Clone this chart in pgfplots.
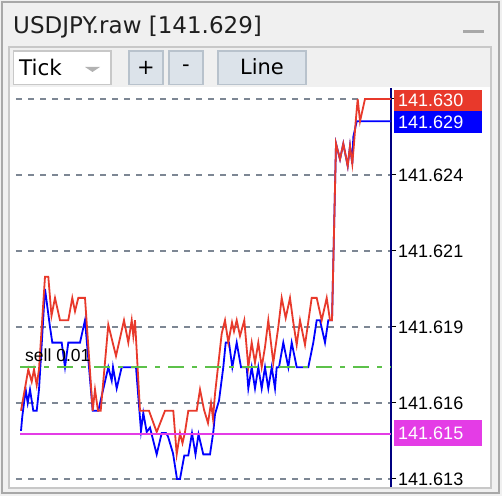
\documentclass[border=0pt]{standalone}
\usepackage{fontspec}
\setmainfont{Liberation Sans}
\newfontfamily\dejavu{DejaVu Sans}
\usepackage{pgfplots}
\pgfplotsset{compat=1.18}
\definecolor{askred}{HTML}{E8392B}
\definecolor{bidblue}{HTML}{0000FF}
\definecolor{tpmag}{HTML}{E43CE6}
\definecolor{sellgreen}{HTML}{5CC14A}
\definecolor{gridgray}{HTML}{7D8794}
\definecolor{navyax}{HTML}{000080}
\definecolor{winbg}{HTML}{F0F0F0}
\definecolor{winborder}{HTML}{A8A8A8}
\definecolor{panelborder}{HTML}{C8C8C8}
\definecolor{btnfill}{HTML}{DCE3EA}
\definecolor{btnborder}{HTML}{B8C2CC}
% prices given in points above 141.600 (value 16 = 141.616)
\begin{document}
\begin{tikzpicture}[x=1pt,y=1pt]
\fill[winbg] (0,0) rectangle (502,496);
\draw[winborder, line width=2pt] (2,3) rectangle (499,494);
\draw[panelborder, line width=2pt] (9,8) rectangle (491,449);
\fill[white] (10,9) rectangle (490,408.5);
% title bar
\node[anchor=base west, inner sep=0pt, text=black!88] at (13,462.5)
  {\dejavu\fontsize{23}{27}\selectfont USDJPY.raw [141.629]};
\fill[winborder] (463,463) rectangle (484,466);
% toolbar
\draw[panelborder, fill=white, line width=1.5pt] (13.5,411.5) rectangle (111,445);
\node[anchor=base west, inner sep=0pt] at (19,420)
  {\dejavu\fontsize{21.5}{25}\selectfont Tick};
\fill[black!30] (85,429) -- (100,429) -- (92.5,424) -- cycle;
\draw[btnborder, fill=btnfill, line width=1.5pt] (129,411.5) rectangle (163,445);
\node[inner sep=0pt] at (146,428) {\dejavu\fontsize{21}{25}\selectfont +};
\draw[btnborder, fill=btnfill, line width=1.5pt] (169,411.5) rectangle (203,445);
\node[inner sep=0pt] at (186,428) {\dejavu\fontsize{21}{25}\selectfont -};
\draw[btnborder, fill=btnfill, line width=1.5pt] (218,411.5) rectangle (306,445);
\node[anchor=base, inner sep=0pt] at (262,421)
  {\dejavu\fontsize{21}{25}\selectfont Line};
\begin{axis}[
  at={(16pt,9pt)}, anchor=south west,
  scale only axis, width=375pt, height=399pt,
  xmin=16, xmax=391, ymin=12.64, ymax=30.49,
  axis x line=none,
  axis y line*=right,
  y axis line style={draw=navyax, line width=2pt, -},
  ytick={13.0,16.4,19.8,23.2,26.6,30.0},
  yticklabels={141.613,141.616,141.619,141.621,141.624,},
  ytick style={black, line width=1pt},
  major tick length=5pt,
  tick align=outside,
  ymajorgrids,
  grid style={gridgray, line width=2pt, dash pattern=on 6pt off 6pt},
  yticklabel style={font=\fontsize{18}{18}\selectfont, text=black, inner sep=2pt},
  clip=true,
]
\addplot[bidblue, line width=1.8pt] coordinates {
(21,15.15) (22.3,15.8) (25.7,17.0) (27.7,16.4) (30,17.0) (33.3,16.05) (36.7,16.05)
(39,17.0) (45,21.5) (50,19.8) (52.3,19.1) (61.7,19.1) (65,18.0) (68.3,19.1) (80,19.1)
(85,20.1) (92.7,16.05) (98.3,16.05) (108.3,18.0) (111.7,17.4) (113,18.0) (116.7,17.05)
(121.7,18.0) (136,18.0) (141,15.15) (143.3,15.95) (146.7,15.1) (150,15.3) (156.7,14.1)
(161.7,15.05) (166,15.05) (168,14.9) (173,14.15) (177,13.0) (180,13.0) (184.3,14.05)
(188.3,14.05) (192,15.05) (195.5,14.1) (198.5,15.0) (203.3,14.1) (210,14.1) (213.3,15.1)
(215,15.9) (219,16.5) (223.3,18.0) (225.7,19.1) (229,19.1) (232.3,18.0) (236.7,19.1)
(241,18.0) (246.7,18.0) (248.3,17.05) (251.7,18.0) (255,17.05) (258.3,18.0) (261.7,17.05)
(265,18.0) (268.3,17.05) (271.7,18.0) (275,17.05) (276.7,18.0) (279,18.0) (283.3,19.1)
(288.3,18.0) (291.7,19.1) (296.7,18.0) (308.3,18.0) (313.3,19.1) (316.7,20.1) (320,20.1)
(325,19.1) (328.3,20.1) (332,20.1) (336,28.0) (340,27.3) (343.3,28.0) (347.7,27.0)
(350,27.9) (352.3,27.1) (353.3,28.3) (356.7,29.0) (391,29.0)
};
\addplot[askred, line width=1.8pt] coordinates {
(21,16.05) (28.3,17.9) (31.7,17.35) (34,17.9) (36.7,17.2) (39,17.9) (45,22.05) (48.3,22.05)
(51.5,20.3) (55,21.1) (60,20.1) (68.3,20.1) (72.3,21.1) (75,20.5) (78.3,21.1) (85,21.1)
(92.7,16.05) (95,17.0) (98,16.05) (100.7,16.05) (108.3,19.9) (116,18.5) (124,20.1)
(128.3,19.1) (131.7,20.1) (133.3,19.4) (135,20.1) (140,16.05) (149,16.05) (156.7,15.1)
(165,16.05) (173.3,16.05) (176.7,14.1) (180,15.05) (182.5,14.6) (185,15.1) (188.3,16.05)
(196.7,16.05) (200,17.0) (204,16.1) (208,15.5) (211,16.4) (213,15.7) (215,16.8)
(221.7,19.5) (225,20.1) (228.3,19.1) (232,20.0) (234,19.6) (236.7,20.1) (240,19.4)
(244.3,20.1) (248.3,18.0) (251.7,19.1) (255,18.2) (258.3,19.1) (261.7,18.0) (265,18.9)
(268.3,20.1) (273.3,18.2) (278.3,19.8) (281.7,21.1) (285.7,20.2) (290,21.1) (293,20.1)
(296.7,19.0) (300,20.1) (305,19.0) (311.7,21.1) (316.7,21.1) (321.7,20.1) (326.7,21.1)
(330,20.1) (332,20.1) (336,28.0) (340,27.3) (343.3,28.0) (347.7,27.0) (350,27.9)
(352.3,27.1) (354,28.0) (355.7,29.0) (357.7,30.0) (360,29.0) (365,30.0) (391,30.0)
};
\addplot[sellgreen, line width=2pt, dash pattern=on 16pt off 8pt on 5pt off 8pt]
  coordinates {(20,18.0) (391,18.0)};
\addplot[tpmag, line width=2pt] coordinates {(20,15.0) (391,15.0)};
\node[anchor=base west, inner sep=0pt] at (axis cs:25,18.25)
  {\fontsize{17.5}{18}\selectfont sell 0.01};
\end{axis}
% price boxes
\fill[askred] (394,384.5) rectangle (482,406);
\node[anchor=west, inner sep=0pt, text=white] at (398,395.5) {\fontsize{18}{18}\selectfont 141.630};
\fill[bidblue] (394,362.5) rectangle (482,384.5);
\node[anchor=west, inner sep=0pt, text=white] at (398,373.5) {\fontsize{18}{18}\selectfont 141.629};
\fill[tpmag] (394,50.5) rectangle (482,76);
\node[anchor=west, inner sep=0pt, text=white] at (398,63) {\fontsize{18}{18}\selectfont 141.615};
\end{tikzpicture}
\end{document}
